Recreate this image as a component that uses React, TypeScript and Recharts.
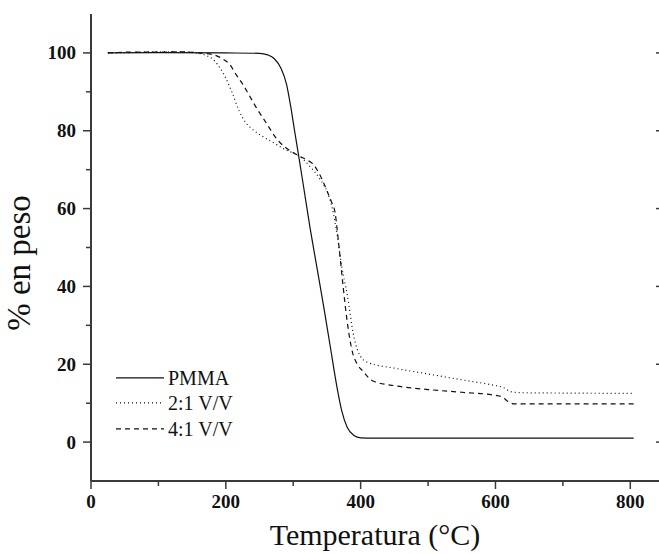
import React from 'react'
import { LineChart, Line, XAxis, YAxis, Legend, Label } from 'recharts'

// PMMA
const pmmaTemp = [25, 100, 200, 250, 262, 272, 282, 290, 296, 302, 308, 315, 325, 335, 345, 355, 365, 372, 380, 390, 400, 420, 500, 600, 700, 805]
const pmmaWeight = [100, 100.1, 100, 99.9, 99.5, 98.5, 96, 92, 86.5, 80, 73.6, 66, 55, 45, 35, 24.5, 14, 8, 3.8, 1.7, 1.1, 1, 1, 1, 1, 1]

// 2:1 V/V
const r21Temp = [25, 60, 100, 130, 155, 170, 180, 190, 200, 210, 220, 230, 240, 255, 270, 290, 308, 325, 340, 350, 358, 365, 372, 380, 390, 400, 410, 450, 500, 550, 600, 612, 622, 635, 700, 805]
const r21Weight = [100, 100.1, 100.3, 100.3, 100, 99.4, 98.5, 96.5, 93.5, 89.5, 85, 82, 80.3, 78.5, 77, 75, 73.6, 70.8, 67.5, 64.5, 60, 53.5, 45, 38, 27, 22, 20.5, 19, 17.5, 16, 14.5, 14, 13, 12.7, 12.6, 12.5]

// 4:1 V/V
const r41Temp = [25, 60, 100, 130, 160, 180, 195, 206, 215, 225, 235, 245, 260, 275, 290, 308, 320, 329, 340, 349, 356, 362, 368, 374, 380, 388, 395, 403, 418, 450, 500, 550, 600, 610, 618, 628, 700, 805]
const r41Weight = [100, 100.2, 100.2, 100.3, 100, 99.6, 98.5, 97, 94.5, 92, 89, 86, 82, 78, 75.5, 73.6, 72.5, 71.5, 68.5, 65, 62, 59, 50, 40, 31, 23, 20, 18.3, 15.7, 14.5, 13.5, 12.8, 12, 11.6, 10.5, 9.8, 9.8, 9.8]

const xTicks = [0, 100, 200, 300, 400, 500, 600, 700, 800]
const yTicks = [0, 10, 20, 30, 40, 50, 60, 70, 80, 90, 100]

const toRows = (t: number[], w: number[]) => t.map((x, i) => ({ temp: x, weight: w[i] }))

const series = [
  { name: 'PMMA', data: toRows(pmmaTemp, pmmaWeight), dash: undefined as string | undefined },
  { name: '2:1 V/V', data: toRows(r21Temp, r21Weight), dash: '1 3' },
  { name: '4:1 V/V', data: toRows(r41Temp, r41Weight), dash: '5 4' },
]

const INK = '#111'
const AXIS = '#3a3a3a'
const SERIF = '"Liberation Serif", "Times New Roman", serif'

const BottomTick = (p: any) => {
  const v = p.payload.value
  const major = v % 200 === 0
  return (
    <g>
      <line x1={p.x} y1={p.y} x2={p.x} y2={p.y + (major ? 8 : 5)} stroke={AXIS} strokeWidth={1.5} />
      {major && (
        <text x={p.x} y={p.y + 27} textAnchor="middle" fontFamily={SERIF} fontWeight="bold" fontSize={19} fill={INK}>
          {v}
        </text>
      )}
    </g>
  )
}

const TopTick = (p: any) => {
  const major = p.payload.value % 200 === 0
  return <line x1={p.x} y1={p.y} x2={p.x} y2={p.y + (major ? 8 : 5)} stroke={AXIS} strokeWidth={1.5} />
}

const LeftTick = (p: any) => {
  const v = p.payload.value
  const major = v % 20 === 0
  return (
    <g>
      <line x1={p.x} y1={p.y} x2={p.x - (major ? 8 : 5)} y2={p.y} stroke={AXIS} strokeWidth={1.5} />
      {major && (
        <text x={p.x - 15} y={p.y + 6.5} textAnchor="end" fontFamily={SERIF} fontWeight="bold" fontSize={19} fill={INK}>
          {v}
        </text>
      )}
    </g>
  )
}

const RightTick = (p: any) => {
  const major = p.payload.value % 20 === 0
  return <line x1={p.x} y1={p.y} x2={p.x - (major ? 8 : 5)} y2={p.y} stroke={AXIS} strokeWidth={1.5} />
}

const renderLegend = () => (
  <div style={{ fontFamily: SERIF, fontSize: 20, lineHeight: '25.5px', color: INK }}>
    {series.map(s => (
      <div key={s.name} style={{ display: 'flex', alignItems: 'flex-start', height: 25.5 }}>
        <svg width={52} height={25.5} style={{ display: 'block' }}>
          <line x1={0} y1={11.8} x2={48} y2={11.8} stroke={INK} strokeWidth={1.2} strokeDasharray={s.dash} />
        </svg>
        <span style={{ whiteSpace: 'nowrap' }}>{s.name}</span>
      </div>
    ))}
  </div>
)

export default function App() {
  return (
    <div style={{ position: 'absolute', left: 0, top: 0, width: 659, height: 554, overflow: 'hidden', background: '#fff' }}>
      <LineChart width={667} height={554} margin={{ top: 14, right: 0, bottom: 0, left: 0 }}>
        <XAxis
          xAxisId="b"
          dataKey="temp"
          type="number"
          domain={[0, 850]}
          ticks={xTicks}
          interval={0}
          height={73}
          tickSize={0}
          tickMargin={0}
          tickLine={false}
          tick={BottomTick}
          axisLine={{ stroke: AXIS, strokeWidth: 2 }}
          allowDataOverflow
        >
          <Label
            content={() => (
              <text x={375} y={545} textAnchor="middle" fontFamily={SERIF} fontSize={30} fill={INK}>
                Temperatura (°C)
              </text>
            )}
          />
        </XAxis>
        <XAxis
          xAxisId="t"
          orientation="top"
          type="number"
          domain={[0, 850]}
          ticks={xTicks}
          interval={0}
          height={0}
          tickSize={0}
          tickMargin={0}
          tickLine={false}
          tick={TopTick}
          axisLine={{ stroke: AXIS, strokeWidth: 2 }}
          allowDataOverflow
        />
        <YAxis
          yAxisId="l"
          type="number"
          domain={[-10, 110]}
          ticks={yTicks}
          interval={0}
          width={91}
          tickSize={0}
          tickMargin={0}
          tickLine={false}
          tick={LeftTick}
          axisLine={{ stroke: AXIS, strokeWidth: 2 }}
          allowDataOverflow
        >
          <Label
            content={() => (
              <text
                x={30}
                y={263}
                textAnchor="middle"
                transform="rotate(-90, 30, 263)"
                fontFamily={SERIF}
                fontSize={33}
                fill={INK}
              >
                % en peso
              </text>
            )}
          />
        </YAxis>
        <YAxis
          yAxisId="r"
          orientation="right"
          type="number"
          domain={[-10, 110]}
          ticks={yTicks}
          interval={0}
          width={3}
          tickSize={0}
          tickMargin={0}
          tickLine={false}
          tick={RightTick}
          axisLine={false}
          allowDataOverflow
        />
        <Legend
          content={renderLegend}
          layout="vertical"
          align="center"
          verticalAlign="middle"
          wrapperStyle={{ left: 116, top: 365.5, width: 160 }}
        />
        {series.map(s => (
          <Line
            key={s.name}
            xAxisId="b"
            yAxisId="l"
            data={s.data}
            dataKey="weight"
            name={s.name}
            type="monotone"
            stroke={INK}
            strokeWidth={1.2}
            strokeDasharray={s.dash}
            dot={false}
            activeDot={false}
            isAnimationActive={false}
          />
        ))}
      </LineChart>
    </div>
  )
}
